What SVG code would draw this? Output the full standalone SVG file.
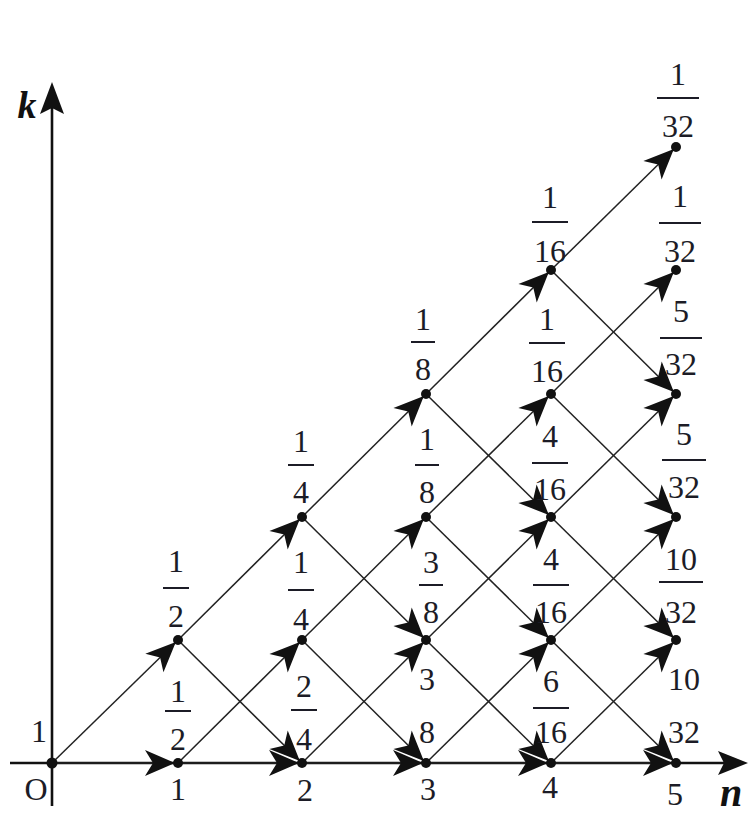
<svg xmlns="http://www.w3.org/2000/svg" width="750" height="814" viewBox="0 0 750 814">
<style>
.e{stroke:#222;stroke-width:1.5;fill:none;marker-end:url(#ah)}
.ax{stroke:#111;stroke-width:2.6;fill:none}
.ah{fill:#111}
.t{font-family:"Liberation Serif","Times New Roman",serif;font-size:32px;fill:#1c1c26;text-anchor:middle}
.v{font-family:"Liberation Serif","Times New Roman",serif;font-weight:bold;font-style:italic;fill:#111;text-anchor:middle}
.b{stroke:#1c1c26;stroke-width:2}
.d{fill:#111}
</style>
<defs>
<marker id="ah" markerUnits="userSpaceOnUse" markerWidth="38" markerHeight="32" viewBox="-33 -16 38 32" refX="3" refY="0" orient="auto">
<path d="M0,0 L-30,-13 L-22,0 L-30,13 Z" fill="#111"/>
</marker>
</defs>
<rect width="750" height="814" fill="#fff"/>
<g id="axes">
<line class="ax" x1="10" y1="763" x2="730" y2="763"/>
<polygon class="ah" points="748,763 718,751 724,763 718,775"/>
<line class="ax" x1="52" y1="806" x2="52" y2="100"/>
<polygon class="ah" points="52,82 40,114 52,108 64,114"/>
<text class="v" x="27" y="118" font-size="38">k</text>
<text class="v" x="731" y="806" font-size="40">n</text>
<text class="t" x="36" y="800" font-size="33">O</text>
<text class="t" x="178" y="800">1</text>
<text class="t" x="305" y="801">2</text>
<text class="t" x="428" y="800">3</text>
<text class="t" x="550" y="798">4</text>
<text class="t" x="675" y="805">5</text>
</g>
<g id="connectors">
<line class="e" x1="52" y1="763" x2="178" y2="763"/>
<line class="e" x1="52" y1="763" x2="178" y2="640"/>
<line class="e" x1="178" y1="763" x2="302" y2="763"/>
<line class="e" x1="178" y1="763" x2="302" y2="640"/>
<line class="e" x1="178" y1="640" x2="302" y2="517"/>
<line class="e" x1="178" y1="640" x2="302" y2="763"/>
<line class="e" x1="302" y1="763" x2="426" y2="763"/>
<line class="e" x1="302" y1="763" x2="426" y2="640"/>
<line class="e" x1="302" y1="640" x2="426" y2="517"/>
<line class="e" x1="302" y1="640" x2="426" y2="763"/>
<line class="e" x1="302" y1="517" x2="426" y2="394"/>
<line class="e" x1="302" y1="517" x2="426" y2="640"/>
<line class="e" x1="426" y1="763" x2="551" y2="763"/>
<line class="e" x1="426" y1="763" x2="551" y2="640"/>
<line class="e" x1="426" y1="640" x2="551" y2="517"/>
<line class="e" x1="426" y1="640" x2="551" y2="763"/>
<line class="e" x1="426" y1="517" x2="551" y2="394"/>
<line class="e" x1="426" y1="517" x2="551" y2="640"/>
<line class="e" x1="426" y1="394" x2="551" y2="270"/>
<line class="e" x1="426" y1="394" x2="551" y2="517"/>
<line class="e" x1="551" y1="763" x2="676" y2="763"/>
<line class="e" x1="551" y1="763" x2="676" y2="640"/>
<line class="e" x1="551" y1="640" x2="676" y2="517"/>
<line class="e" x1="551" y1="640" x2="676" y2="763"/>
<line class="e" x1="551" y1="517" x2="676" y2="394"/>
<line class="e" x1="551" y1="517" x2="676" y2="640"/>
<line class="e" x1="551" y1="394" x2="676" y2="270"/>
<line class="e" x1="551" y1="394" x2="676" y2="517"/>
<line class="e" x1="551" y1="270" x2="676" y2="147"/>
<line class="e" x1="551" y1="270" x2="676" y2="394"/>
</g>
<g id="n0_0"><circle class="d" cx="52" cy="763" r="5.5"/><text class="t" x="39" y="742">1</text></g>
<g id="n1_1"><circle class="d" cx="178" cy="640" r="5"/><text class="t" x="176" y="572">1</text><line class="b" x1="163" y1="588" x2="189" y2="588"/><text class="t" x="176" y="627">2</text></g>
<g id="n1_0"><circle class="d" cx="178" cy="763" r="5"/><text class="t" x="178" y="702">1</text><line class="b" x1="165" y1="711" x2="191" y2="711"/><text class="t" x="178" y="750">2</text></g>
<g id="n2_2"><circle class="d" cx="302" cy="517" r="5"/><text class="t" x="301" y="452">1</text><line class="b" x1="288" y1="465" x2="314" y2="465"/><text class="t" x="301" y="503">4</text></g>
<g id="n2_1"><circle class="d" cx="302" cy="640" r="5"/><text class="t" x="301" y="573">1</text><line class="b" x1="288" y1="590" x2="314" y2="590"/><text class="t" x="301" y="630">4</text></g>
<g id="n2_0"><circle class="d" cx="302" cy="763" r="5"/><text class="t" x="304" y="697">2</text><line class="b" x1="291" y1="710" x2="317" y2="710"/><text class="t" x="304" y="750">4</text></g>
<g id="n3_3"><circle class="d" cx="426" cy="394" r="5"/><text class="t" x="423" y="330">1</text><line class="b" x1="411" y1="342" x2="435" y2="342"/><text class="t" x="423" y="380">8</text></g>
<g id="n3_2"><circle class="d" cx="426" cy="517" r="5"/><text class="t" x="427" y="450" fill="#3a1420">1</text><line class="b" x1="415" y1="465" x2="439" y2="465"/><text class="t" x="427" y="503">8</text></g>
<g id="n3_1"><circle class="d" cx="426" cy="640" r="5"/><text class="t" x="431" y="573">3</text><line class="b" x1="419" y1="585" x2="443" y2="585"/><text class="t" x="431" y="623">8</text></g>
<g id="n3_0"><circle class="d" cx="426" cy="763" r="5"/><text class="t" x="427" y="690">3</text><text class="t" x="427" y="743">8</text></g>
<g id="n4_4"><circle class="d" cx="551" cy="270" r="5"/><text class="t" x="550" y="208">1</text><line class="b" x1="532" y1="222" x2="568" y2="222"/><text class="t" x="550" y="262">16</text></g>
<g id="n4_3"><circle class="d" cx="551" cy="394" r="5"/><text class="t" x="547" y="330">1</text><line class="b" x1="529" y1="343" x2="565" y2="343"/><text class="t" x="547" y="382">16</text></g>
<g id="n4_2"><circle class="d" cx="551" cy="517" r="5"/><text class="t" x="550" y="447">4</text><line class="b" x1="532" y1="463" x2="568" y2="463"/><text class="t" x="550" y="500">16</text></g>
<g id="n4_1"><circle class="d" cx="551" cy="640" r="5"/><text class="t" x="551" y="570">4</text><line class="b" x1="533" y1="585" x2="569" y2="585"/><text class="t" x="551" y="623">16</text></g>
<g id="n4_0"><circle class="d" cx="551" cy="763" r="5"/><text class="t" x="551" y="692">6</text><line class="b" x1="533" y1="708" x2="569" y2="708"/><text class="t" x="551" y="743">16</text></g>
<g id="n5_5"><circle class="d" cx="676" cy="147" r="5"/><text class="t" x="678" y="85">1</text><line class="b" x1="657" y1="98" x2="699" y2="98"/><text class="t" x="678" y="137">32</text></g>
<g id="n5_4"><circle class="d" cx="676" cy="270" r="5"/><text class="t" x="680" y="207">1</text><line class="b" x1="659" y1="223" x2="701" y2="223"/><text class="t" x="680" y="262">32</text></g>
<g id="n5_3"><circle class="d" cx="676" cy="394" r="5"/><text class="t" x="681" y="322">5</text><line class="b" x1="660" y1="338" x2="702" y2="338"/><text class="t" x="681" y="375">32</text></g>
<g id="n5_2"><circle class="d" cx="676" cy="517" r="5"/><text class="t" x="684" y="445">5</text><line class="b" x1="662" y1="460" x2="706" y2="460"/><text class="t" x="684" y="498">32</text></g>
<g id="n5_1"><circle class="d" cx="676" cy="640" r="5"/><text class="t" x="681" y="570">10</text><line class="b" x1="659" y1="582" x2="703" y2="582"/><text class="t" x="681" y="623">32</text></g>
<g id="n5_0"><circle class="d" cx="676" cy="763" r="5"/><text class="t" x="684" y="690">10</text><text class="t" x="684" y="743">32</text></g>
</svg>
